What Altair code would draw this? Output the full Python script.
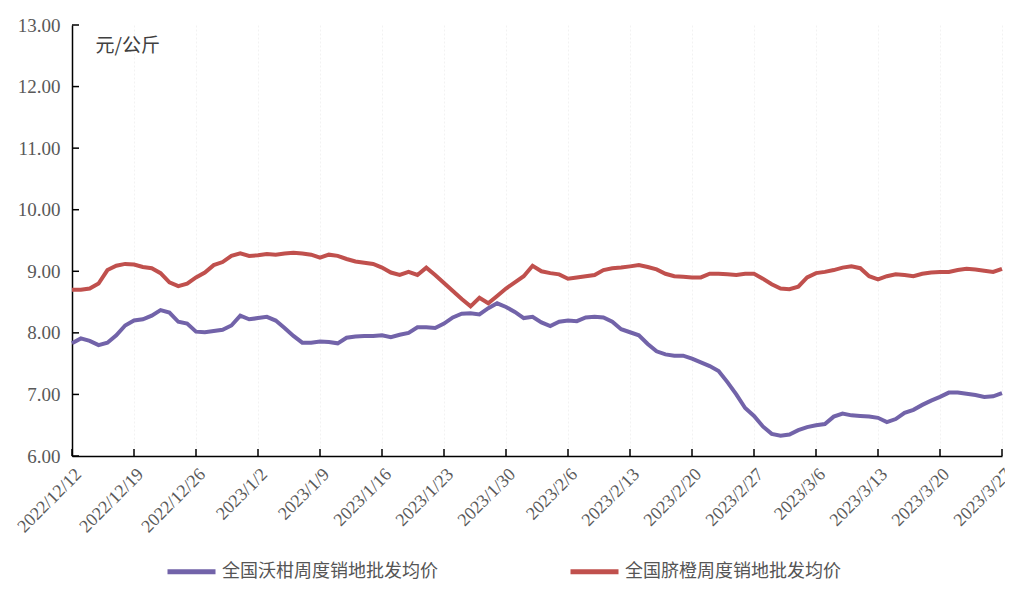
import altair as alt
import pandas as pd

# ---------------- data ----------------
start_date = "2022-12-12"
n_days = 106
series_names = ["全国沃柑周度销地批发均价", "全国脐橙周度销地批发均价"]
series_colors = ["#7263A9", "#C0504D"]

wogan = [7.83, 7.91, 7.87, 7.80, 7.84, 7.96, 8.12, 8.20, 8.22, 8.28,
         8.37, 8.33, 8.18, 8.15, 8.02, 8.01, 8.03, 8.05, 8.12, 8.28,
         8.22, 8.24, 8.26, 8.20, 8.08, 7.95, 7.84, 7.84, 7.86, 7.85,
         7.83, 7.92, 7.94, 7.95, 7.95, 7.96, 7.93, 7.97, 8.00, 8.09,
         8.09, 8.08, 8.15, 8.25, 8.31, 8.32, 8.30, 8.40, 8.48, 8.42,
         8.34, 8.24, 8.26, 8.17, 8.11, 8.18, 8.20, 8.19, 8.25, 8.26,
         8.25, 8.18, 8.06, 8.01, 7.96, 7.82, 7.70, 7.65, 7.63, 7.63,
         7.58, 7.52, 7.46, 7.38, 7.20, 7.00, 6.78, 6.65, 6.48, 6.36,
         6.33, 6.35, 6.42, 6.47, 6.50, 6.52, 6.64, 6.69, 6.66, 6.65,
         6.64, 6.62, 6.55, 6.60, 6.70, 6.75, 6.83, 6.90, 6.96, 7.03,
         7.03, 7.01, 6.99, 6.96, 6.97, 7.02]

qicheng = [8.70, 8.70, 8.72, 8.80, 9.02, 9.09, 9.12, 9.11, 9.07, 9.05,
           8.97, 8.82, 8.76, 8.80, 8.90, 8.98, 9.10, 9.15, 9.25, 9.29,
           9.25, 9.26, 9.28, 9.27, 9.29, 9.30, 9.29, 9.27, 9.22, 9.27,
           9.25, 9.20, 9.16, 9.14, 9.12, 9.06, 8.98, 8.94, 8.99, 8.94,
           9.06, 8.94, 8.81, 8.68, 8.55, 8.43, 8.57, 8.48, 8.60, 8.72,
           8.82, 8.92, 9.09, 9.00, 8.97, 8.95, 8.88, 8.90, 8.92, 8.94,
           9.02, 9.05, 9.06, 9.08, 9.10, 9.07, 9.03, 8.96, 8.92, 8.91,
           8.90, 8.90, 8.96, 8.96, 8.95, 8.94, 8.96, 8.96, 8.88, 8.79,
           8.72, 8.71, 8.75, 8.90, 8.97, 8.99, 9.02, 9.06, 9.08, 9.05,
           8.92, 8.87, 8.92, 8.95, 8.94, 8.92, 8.96, 8.98, 8.99, 8.99,
           9.02, 9.04, 9.03, 9.01, 8.99, 9.04]

y_ticks = [6, 7, 8, 9, 10, 11, 12, 13]
y_title = "元/公斤"

dates = pd.date_range(start_date, periods=n_days, freq="D")
date_strs = dates.strftime("%Y-%m-%d").tolist()
tick_dates = dates[::7]


def dt(ts):
    return alt.DateTime(year=int(ts.year), month=int(ts.month), date=int(ts.day), utc=True)


df = pd.concat([
    pd.DataFrame({"date": date_strs, "price": wogan, "series": series_names[0]}),
    pd.DataFrame({"date": date_strs, "price": qicheng, "series": series_names[1]}),
])

W, H = 930, 431
serif = "Liberation Serif"
cjk = "Noto Sans CJK SC"

x_enc = alt.X(
    "date:T",
    scale=alt.Scale(type="utc", domain=[dt(dates[0]), dt(dates[-1])], nice=False),
    axis=alt.Axis(
        values=[dt(t) for t in tick_dates],
        format="%Y/%-m/%-d",
        labelAngle=-45,
        labelAlign="right",
        labelBaseline="top",
        labelPadding=9,
        labelFont=serif,
        labelFontSize=18,
        labelColor="#595959",
        ticks=False,
        domainColor="#000000",
        domainWidth=1.5,
        grid=True,
        gridColor="#f2f2f2",
        gridDash=[2, 2],
        labelOverlap=False,
        labelBound=False,
        title=None,
    ),
)

y_enc = alt.Y(
    "price:Q",
    scale=alt.Scale(domain=[6, 13], nice=False, zero=False),
    axis=alt.Axis(
        values=y_ticks,
        format=".2f",
        labelFont=serif,
        labelFontSize=19,
        labelColor="#595959",
        labelPadding=12,
        ticks=False,
        domainColor="#000000",
        domainWidth=1.5,
        grid=False,
        title=y_title,
        titleAngle=0,
        titleX=23,
        titleY=11,
        titleAlign="left",
        titleBaseline="top",
        titleFont=cjk,
        titleFontSize=19,
        titleFontWeight="normal",
        titleColor="#404040",
    ),
)

lines = alt.Chart(df).mark_line(strokeWidth=4).encode(
    x=x_enc,
    y=y_enc,
    color=alt.Color(
        "series:N",
        scale=alt.Scale(domain=series_names, range=series_colors),
        legend=alt.Legend(
            title=None,
            orient="none",
            direction="horizontal",
            legendX=93,
            legendY=520,
            symbolType="stroke",
            symbolSize=2304,
            symbolStrokeWidth=5,
            labelFont=cjk,
            labelFontSize=18,
            labelColor="#555555",
            labelOffset=4,
            labelLimit=0,
            columnPadding=122,
            padding=0,
        ),
    ),
)

xticks = alt.Chart(pd.DataFrame({"date": tick_dates.strftime("%Y-%m-%d").tolist()})).mark_rule(
    color="#000000", strokeWidth=1.5
).encode(x="date:T", y=alt.value(H), y2=alt.value(H - 7))

yticks = alt.Chart(pd.DataFrame({"price": y_ticks})).mark_rule(
    color="#000000", strokeWidth=1.5
).encode(y="price:Q", x=alt.value(0), x2=alt.value(7))

chart = alt.layer(lines, xticks, yticks).properties(
    width=W,
    height=H,
    autosize=alt.AutoSizeParams(type="none"),
    padding={"left": 64, "top": 17, "right": 3, "bottom": 125},
    background="white",
).configure_view(stroke=None)

chart.save("out.html", embed_options={"renderer": "svg", "actions": False})
